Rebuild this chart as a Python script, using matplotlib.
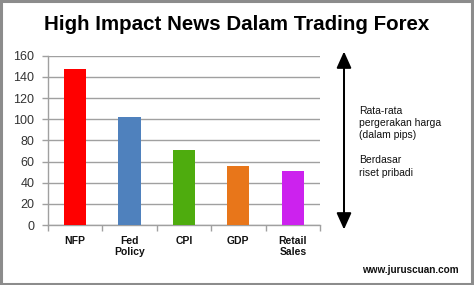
import matplotlib
matplotlib.use("Agg")
import matplotlib.pyplot as plt
from matplotlib.patches import Rectangle, FancyArrowPatch

categories = ["NFP", "Fed\nPolicy", "CPI", "GDP", "Retail\nSales"]
pips = [147, 102, 71, 56, 51]
bar_colors = ["#FF0000", "#4F81BD", "#4EAC0E", "#E8761A", "#CC22EE"]
yticks = [0, 20, 40, 60, 80, 100, 120, 140, 160]

plt.rcParams["font.family"] = ["Liberation Sans", "DejaVu Sans"]

fig = plt.figure(figsize=(4.74, 2.85), dpi=100)
ax = fig.add_axes([0.1006, 0.2105, 0.5745, 0.594])

x = list(range(len(categories)))
ax.bar(x, pips, width=0.41, color=bar_colors, zorder=3)

ax.set_ylim(0, 160)
ax.set_xlim(-0.5, len(categories) - 0.5)
ax.set_yticks(yticks)
ax.set_yticklabels([str(v) for v in yticks], fontsize=9, color="#333333")
ax.yaxis.grid(True, color="#A0A0A0", linewidth=1.0, zorder=0)
ax.set_axisbelow(True)

# category labels centred under bars, tick marks at category boundaries
ax.set_xticks(x)
ax.set_xticklabels(categories, fontsize=7.5, fontweight="bold", color="#111111",
                   linespacing=1.1)
ax.tick_params(axis="x", length=0, pad=8)
ax.set_xticks([i - 0.5 for i in range(len(categories) + 1)], minor=True)
ax.tick_params(axis="x", which="minor", length=4, color="#A0A0A0", width=1)
ax.tick_params(axis="y", length=4, color="#A0A0A0", width=1, pad=5.5)

for side in ("top", "right"):
    ax.spines[side].set_visible(False)
for side in ("left", "bottom"):
    ax.spines[side].set_color("#A0A0A0")
    ax.spines[side].set_linewidth(1.0)

fig.text(0.5, 1 - 24 / 285, "High Impact News Dalam Trading Forex", ha="center", va="center",
         fontsize=14.8, fontweight="bold", color="#000000")

# double-headed arrow spanning the value range
arrow = FancyArrowPatch((344 / 474, 1 - 51.5 / 285), (344 / 474, 1 - 229.5 / 285),
                        transform=fig.transFigure,
                        arrowstyle="<|-|>,head_length=10,head_width=4.5",
                        color="#000000", linewidth=1.45, mutation_scale=1,
                        shrinkA=0, shrinkB=0)
fig.add_artist(arrow)

note = "Rata-rata\npergerakan harga\n(dalam pips)\n\nBerdasar\nriset pribadi"
fig.text(359 / 474, 1 - 105.5 / 285, note, ha="left", va="top", fontsize=7.5,
         color="#111111", linespacing=1.3)

fig.text(459 / 474, 1 - 270 / 285, "www.juruscuan.com", ha="right", va="center",
         fontsize=7.2, fontweight="bold", color="#111111")

# outer frame
fig.add_artist(Rectangle((0.002, 0.004), 0.994, 0.992, transform=fig.transFigure,
                         fill=False, edgecolor="#8C8C8C", linewidth=2.2))

fig.savefig("out.png", dpi=100)
